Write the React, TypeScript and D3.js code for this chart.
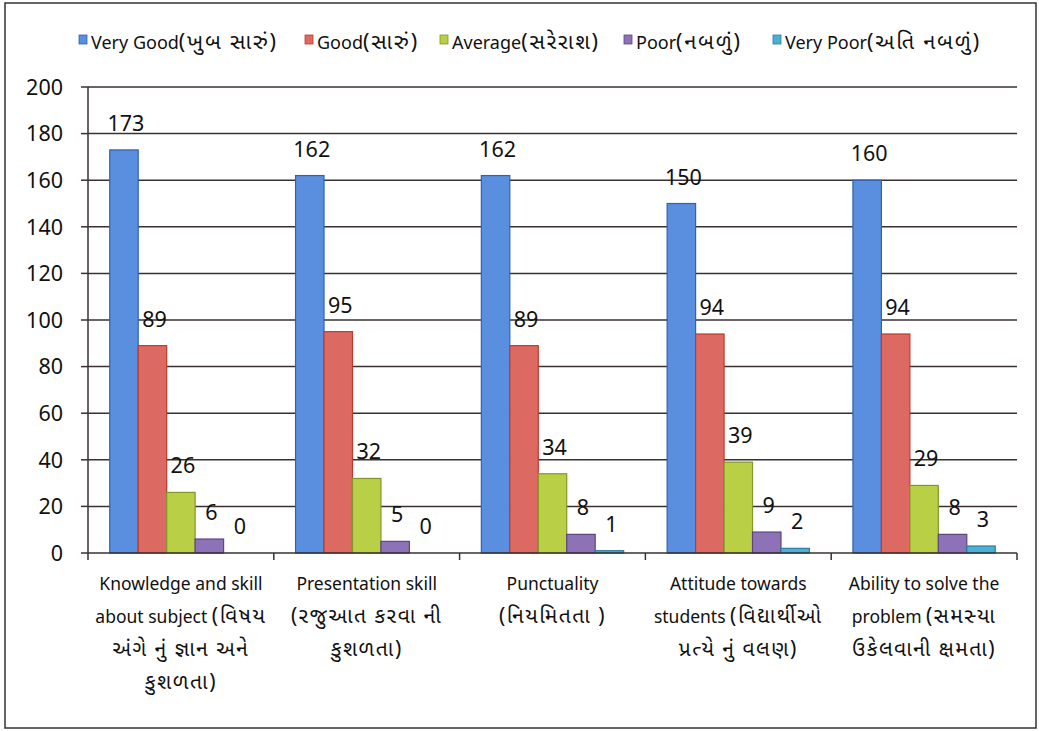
import React from "react";
import * as d3 from "d3";

const categories: string[][] = [
  ["Knowledge and skill", "about subject (વિષય", "અંગે નું જ્ઞાન અને", "કુશળતા)"],
  ["Presentation skill", "(રજુઆત કરવા ની", "કુશળતા)"],
  ["Punctuality", "(નિયમિતતા )"],
  ["Attitude towards", "students (વિદ્યાર્થીઓ", "પ્રત્યે નું  વલણ)"],
  ["Ability to solve the", "problem (સમસ્યા", "ઉકેલવાની ક્ષમતા)"],
];
const seriesNames = [
  "Very Good(ખુબ સારું)",
  "Good(સારું)",
  "Average(સરેરાશ)",
  "Poor(નબળું)",
  "Very Poor(અતિ નબળું)",
];
const veryGood = [173, 162, 162, 150, 160];
const good = [89, 95, 89, 94, 94];
const average = [26, 32, 34, 39, 29];
const poor = [6, 5, 8, 9, 8];
const veryPoor = [0, 0, 1, 2, 3];
const yTicks = [0, 20, 40, 60, 80, 100, 120, 140, 160, 180, 200];

const fills = ["#5a8ede", "#dd6a62", "#b9cf45", "#8e72b8", "#4bb0d6"];
const strokes = ["#2f62b0", "#c0392b", "#83962a", "#5c4580", "#2b7ea0"];
const legendX = [79, 305, 440, 624, 773];

const FONT = "'Noto Sans', 'Noto Sans Gujarati', 'Open Sans', sans-serif";

function splitRuns(s: string): { t: string; guj: boolean }[] {
  const parts = s.split(/(\(?[\u0A80-\u0AFF][\u0A80-\u0AFF ]*[\u0A80-\u0AFF]\s*\)?|\(?[\u0A80-\u0AFF]\)?)/);
  return parts.filter((p) => p.length > 0).map((p) => ({ t: p, guj: /[\u0A80-\u0AFF]/.test(p) }));
}

function Mixed({ s, size, scale, ls }: { s: string; size: number; scale: number; ls: number }) {
  return (
    <>
      {splitRuns(s).map((r, i) => (
        <tspan key={i} fontSize={r.guj ? size * scale : size} letterSpacing={r.guj ? ls : 0}>
          {r.t}
        </tspan>
      ))}
    </>
  );
}

export default function App() {
  const series = [veryGood, good, average, poor, veryPoor];
  const left = 88, right = 1017, top = 87, bottom = 553;
  const x0 = d3.scaleBand<number>().domain(d3.range(categories.length)).range([left, right]).padding(0);
  const bw = x0.bandwidth();
  const inner = d3
    .scaleBand<number>()
    .domain(d3.range(series.length))
    .range([bw * 0.117, bw * 0.883])
    .padding(0);
  const y = d3.scaleLinear().domain([0, 200]).range([bottom, top]);

  return (
    <svg
      width={1039}
      height={731}
      style={{ position: "absolute", left: 0, top: 0, background: "#fff" }}
      fontFamily={FONT}
    >
      <rect x={5} y={3} width={1031} height={725} fill="#fff" stroke="#333" strokeWidth={1.5} />
      {/* legend */}
      {seriesNames.map((n, i) => (
        <g key={n}>
          <rect x={legendX[i]} y={35} width={8} height={9} fill={fills[i]} stroke={strokes[i]} strokeWidth={0.8} />
          <text x={legendX[i] + 12} y={49} fontSize={18} fill="#111">
            <Mixed s={n} size={18} scale={1.2} ls={1.8} />
          </text>
        </g>
      ))}
      {/* gridlines */}
      {yTicks.map((t) => (
        <g key={t}>
          {t > 0 && (
            <line x1={left} x2={right} y1={y(t)} y2={y(t)} stroke="#3a3030" strokeWidth={1.5} />
          )}
          <line x1={left - 7} x2={left} y1={y(t)} y2={y(t)} stroke="#3a3030" strokeWidth={1.5} />
          <text x={63} y={y(t)} dy="0.36em" textAnchor="end" fontSize={21.5} fill="#111">
            {t}
          </text>
        </g>
      ))}
      {/* bars */}
      {categories.map((c, ci) => (
        <g key={ci} transform={`translate(${x0(ci)},0)`}>
          {series.map((s, si) => {
            const v = s[ci];
            const bx = inner(si)!;
            const w = inner.bandwidth();
            return (
              <g key={si}>
                <rect
                  x={bx}
                  y={y(v)}
                  width={w}
                  height={Math.max(0, bottom - y(v))}
                  fill={fills[si]}
                  stroke={v > 0 ? strokes[si] : "none"}
                  strokeWidth={1.2}
                />
                <text x={bx + w / 2 + 2} y={y(v) - 19} textAnchor="middle" fontSize={21.5} fill="#111">
                  {v}
                </text>
              </g>
            );
          })}
        </g>
      ))}
      {/* axes */}
      <line x1={left} x2={left} y1={top} y2={bottom} stroke="#3a3030" strokeWidth={1.5} />
      <line x1={left} x2={right} y1={bottom} y2={bottom} stroke="#3a3030" strokeWidth={1.5} />
      {d3.range(categories.length + 1).map((i) => {
        const xx = left + i * bw;
        return <line key={i} x1={xx} x2={xx} y1={bottom} y2={bottom + 7} stroke="#3a3030" strokeWidth={1.5} />;
      })}
      {/* category labels */}
      {categories.map((lines, ci) => (
        <text key={ci} textAnchor="middle" fontSize={17.5} fill="#111">
          {lines.map((l, li) => (
            <tspan key={li} x={x0(ci)! + bw / 2} y={590 + li * 33}>
              <Mixed s={l} size={17.5} scale={1.2} ls={1.5} />
            </tspan>
          ))}
        </text>
      ))}
    </svg>
  );
}
